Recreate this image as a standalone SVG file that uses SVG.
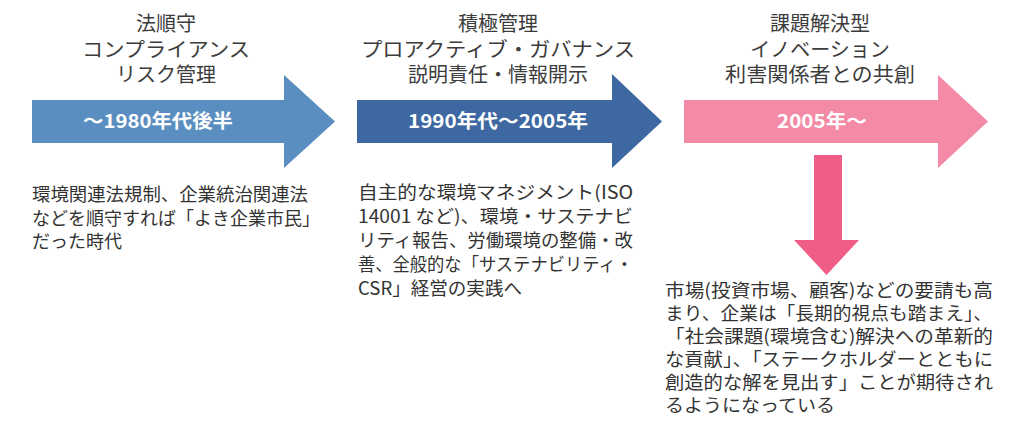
<svg xmlns="http://www.w3.org/2000/svg" width="1024" height="423" viewBox="0 0 1024 423">
<style>
.title{font-family:"Noto Sans CJK JP","Noto Sans",sans-serif;font-size:20px;fill:#3c3c3c;text-anchor:middle}
.lbl{font-family:"Noto Sans CJK JP","Noto Sans",sans-serif;font-size:19px;font-weight:bold;fill:#ffffff;text-anchor:middle}
.body{font-family:"Noto Sans CJK JP","Noto Sans",sans-serif;font-size:18px;fill:#333333}
</style>
<rect width="1024" height="423" fill="#ffffff"/>
<g id="era1">
<polygon points="32,100 284,100 284,75 335,121.5 284,168 284,143 32,143" fill="#5a8ec0"/>
<text class="title" x="166" y="31">法順守</text>
<text class="title" x="166" y="57" textLength="168" lengthAdjust="spacingAndGlyphs">コンプライアンス</text>
<text class="title" x="166" y="82">リスク管理</text>
<text class="lbl" x="158" y="128" textLength="150" lengthAdjust="spacingAndGlyphs">～1980年代後半</text>
<text class="body" x="32" y="201" textLength="276" lengthAdjust="spacingAndGlyphs">環境関連法規制、企業統治関連法</text>
<text class="body" x="32" y="225" textLength="288" lengthAdjust="spacingAndGlyphs">などを順守すれば「よき企業市民」</text>
<text class="body" x="32" y="248">だった時代</text>
</g>
<g id="era2">
<polygon points="357,100 612,100 612,74 662,121.5 612,168 612,143 357,143" fill="#3e68a2"/>
<text class="title" x="498" y="31">積極管理</text>
<text class="title" x="498" y="57" textLength="274" lengthAdjust="spacingAndGlyphs">プロアクティブ・ガバナンス</text>
<text class="title" x="498" y="82">説明責任・情報開示</text>
<text class="lbl" x="498" y="128" textLength="180" lengthAdjust="spacingAndGlyphs">1990年代～2005年</text>
<text class="body" x="358" y="199" textLength="275" lengthAdjust="spacingAndGlyphs">自主的な環境マネジメント(ISO</text>
<text class="body" x="358" y="223" textLength="275" lengthAdjust="spacingAndGlyphs">14001 など)、環境・サステナビ</text>
<text class="body" x="358" y="247" textLength="275" lengthAdjust="spacingAndGlyphs">リティ報告、労働環境の整備・改</text>
<text class="body" x="358" y="271" textLength="275" lengthAdjust="spacingAndGlyphs">善、全般的な「サステナビリティ・</text>
<text class="body" x="358" y="295" textLength="164" lengthAdjust="spacingAndGlyphs">CSR」経営の実践へ</text>
</g>
<g id="era3">
<polygon points="684,100 938,100 938,75 988,121.5 938,168 938,143 684,143" fill="#f38aa6"/>
<text class="title" x="820" y="31">課題解決型</text>
<text class="title" x="820" y="57">イノベーション</text>
<text class="title" x="820" y="82" textLength="190" lengthAdjust="spacingAndGlyphs">利害関係者との共創</text>
<text class="lbl" x="822" y="128" textLength="90" lengthAdjust="spacingAndGlyphs">2005年～</text>
</g>
<g id="connectors">
<polygon points="814,155 842,155 842,240 859,240 826.5,275 794,240 814,240" fill="#f05e88"/>
</g>
<g id="outcome">
<text class="body" x="665" y="297" textLength="328" lengthAdjust="spacingAndGlyphs">市場(投資市場、顧客)などの要請も高</text>
<text class="body" x="665" y="320" textLength="327" lengthAdjust="spacingAndGlyphs">まり、企業は「長期的視点も踏まえ」、</text>
<text class="body" x="665" y="343" textLength="328" lengthAdjust="spacingAndGlyphs">「社会課題(環境含む)解決への革新的</text>
<text class="body" x="665" y="366" textLength="328" lengthAdjust="spacingAndGlyphs">な貢献」、「ステークホルダーとともに</text>
<text class="body" x="665" y="389" textLength="328" lengthAdjust="spacingAndGlyphs">創造的な解を見出す」ことが期待され</text>
<text class="body" x="665" y="412" textLength="170" lengthAdjust="spacingAndGlyphs">るようになっている</text>
</g>
</svg>
